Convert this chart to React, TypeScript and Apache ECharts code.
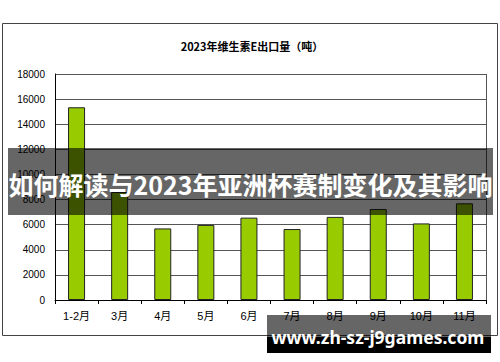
import React, { useEffect, useRef } from "react";
import * as echarts from "echarts";

const categories = ["1-2月", "3月", "4月", "5月", "6月", "7月", "8月", "9月", "10月", "11月"];
const exportVolume = [15350, 8600, 5700, 5980, 6560, 5650, 6620, 7250, 6100, 7700];
const chartTitle = "2023年维生素E出口量（吨）";
const bannerText = "如何解读与2023年亚洲杯赛制变化及其影响";
const watermarkText = "www.zh-sz-j9games.com";

export default function App() {
  const ref = useRef<HTMLDivElement>(null);
  useEffect(() => {
    document.body.style.margin = "0";
    const chart = echarts.init(ref.current!, null, { renderer: "svg" });
    chart.setOption({
      animation: false,
      backgroundColor: "#ffffff",
      title: {
        text: chartTitle,
        left: 247,
        textAlign: "center",
        top: 35,
        textStyle: { fontSize: 11, fontWeight: "bold", color: "#000", fontFamily: "Noto Sans CJK SC" },
      },
      grid: { left: 55, top: 74, right: 14, bottom: 62, containLabel: false },
      xAxis: {
        type: "category",
        data: categories,
        axisLine: { lineStyle: { color: "#000", width: 1 } },
        axisTick: { show: true, alignWithLabel: false, length: 4, lineStyle: { color: "#000" } },
        axisLabel: { margin: 10, fontSize: 11, color: "#000", fontFamily: "Liberation Sans, Noto Sans CJK SC" },
      },
      yAxis: {
        type: "value",
        min: 0,
        max: 18000,
        interval: 2000,
        axisLine: { show: true, lineStyle: { color: "#000", width: 1 } },
        axisTick: { show: false },
        axisLabel: { margin: 10, fontSize: 10, color: "#000", fontFamily: "Liberation Sans", formatter: (v: number) => String(v) },
        splitLine: { show: true, lineStyle: { color: "#555", width: 1 } },
      },
      series: [
        {
          type: "bar",
          data: exportVolume,
          barWidth: 17,
          itemStyle: { color: "#99CC00", borderColor: "#222", borderWidth: 1 },
        },
      ],
      graphic: [
        { type: "rect", z: 0, silent: true, shape: { x: 2.5, y: 23.5, width: 495, height: 312 }, style: { fill: "none", stroke: "#444", lineWidth: 1 } },
        { type: "line", z: 5, silent: true, shape: { x1: 486.5, y1: 74, x2: 486.5, y2: 300 }, style: { stroke: "#555", lineWidth: 1 } },
        { type: "rect", z: 100, silent: true, shape: { x: 8, y: 148, width: 485, height: 67 }, style: { fill: "rgba(0,0,0,0.6)" } },
        {
          type: "text", z: 101, silent: true, x: 250.5, y: 184,
          style: { text: bannerText, fill: "#fff", fontSize: 25, fontWeight: "bold", fontFamily: "Noto Sans CJK SC", align: "center", verticalAlign: "middle" },
        },
        { type: "rect", z: 100, silent: true, shape: { x: 267, y: 315, width: 224, height: 22 }, style: { fill: "rgba(0,0,0,0.6)" } },
        { type: "rect", z: 100, silent: true, shape: { x: 267, y: 337, width: 224, height: 16 }, style: { fill: "#000" } },
        {
          type: "text", z: 101, silent: true, x: 378, y: 337,
          style: { text: watermarkText, fill: "#fff", fontSize: 17.5, fontWeight: "bold", fontFamily: "Noto Sans", align: "center", verticalAlign: "middle" },
        },
      ],
    });
    return () => chart.dispose();
  }, []);
  return <div ref={ref} style={{ width: 500, height: 362 }} />;
}
